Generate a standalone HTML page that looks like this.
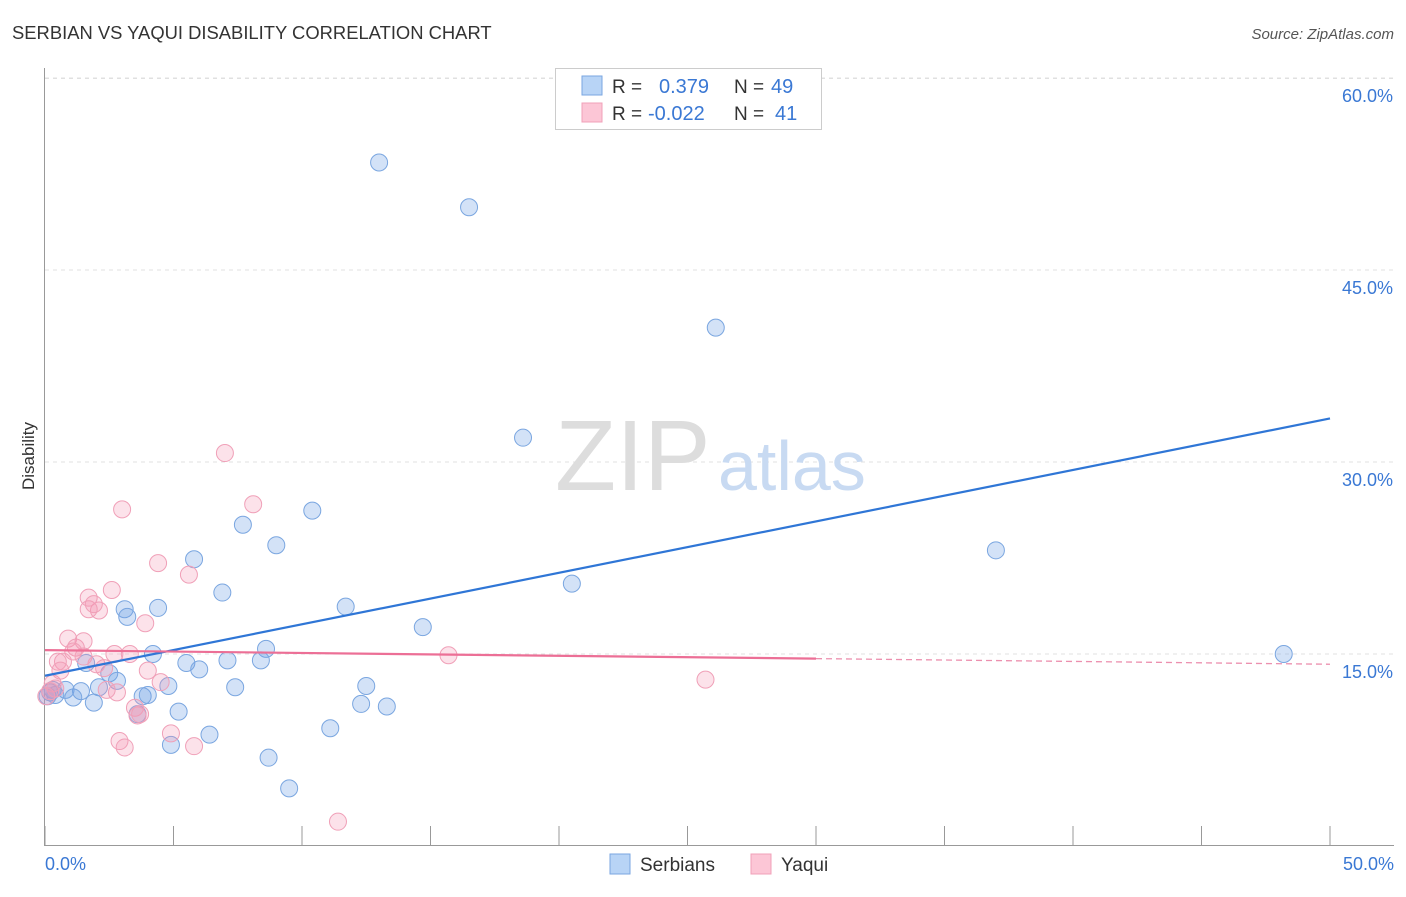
<!DOCTYPE html>
<html><head><meta charset="utf-8"><style>
body{margin:0;background:#fff;font-family:"Liberation Sans",sans-serif;}
svg text{font-family:"Liberation Sans",sans-serif;}
</style></head><body>
<svg id="chart" width="1406" height="892">
<text x="12" y="39" font-size="18.4" fill="#333">SERBIAN VS YAQUI DISABILITY CORRELATION CHART</text>
<text x="1394" y="39" font-size="15" fill="#555" font-style="italic" text-anchor="end">Source: ZipAtlas.com</text>
<text x="34" y="456" font-size="17" fill="#333" transform="rotate(-90 34 456)" text-anchor="middle">Disability</text>
<g id="grid"></g>
<text x="555" y="490" font-size="100" fill="#ddd" font-family="Liberation Serif">ZIP</text>
<text x="718" y="490" font-size="70" fill="#c8daf2">atlas</text>
<g id="pts"></g>
<g id="lines"></g>
<g>
<rect x="555.5" y="68.5" width="266" height="61" fill="#fff" stroke="#ccc"/>
<rect x="582" y="76" width="20" height="19" fill="#b8d4f6" stroke="#7aa6e0"/>
<rect x="582" y="103" width="20" height="19" fill="#fcc6d6" stroke="#f0a0b8"/>
<text x="612" y="93" font-size="19" fill="#333">R = </text><text x="659" y="93" font-size="20" fill="#3a78d4">0.379</text>
<text x="734" y="93" font-size="19" fill="#333">N = </text><text x="771" y="93" font-size="20" fill="#3a78d4">49</text>
<text x="612" y="120" font-size="19" fill="#333">R = </text><text x="648" y="120" font-size="20" fill="#3a78d4">-0.022</text>
<text x="734" y="120" font-size="19" fill="#333">N = </text><text x="775" y="120" font-size="20" fill="#3a78d4">41</text>
</g>
<g>
<rect x="610" y="854" width="20" height="20" fill="#b8d4f6" stroke="#7aa6e0"/>
<text x="640" y="871" font-size="19" fill="#333">Serbians</text>
<rect x="751" y="854" width="20" height="20" fill="#fcc6d6" stroke="#f0a0b8"/>
<text x="781" y="871" font-size="19" fill="#333">Yaqui</text>
</g>
</svg>
<script>
const yTicks=[15,30,45,60];
const xTickLabels=["0.0%","50.0%"];
const serbX=[13.0,16.5,26.1,18.6,37.0,20.5,48.2,7.7,10.4,9.0,5.8,6.9,3.1,4.4,3.2,11.7,14.7,4.2,8.6,5.5,6.0,7.1,8.4,1.6,2.5,2.8,4.8,7.4,12.5,0.3,0.8,1.4,2.1,3.8,4.0,0.4,1.1,1.9,12.3,13.3,5.2,3.6,11.1,6.4,4.9,8.7,9.5,0.2,0.1];
const serbY=[53.4,49.9,40.5,31.9,23.1,20.5,15.0,25.1,26.2,23.5,22.4,19.8,18.5,18.6,17.9,18.7,17.1,15.0,15.4,14.3,13.8,14.5,14.5,14.3,13.5,12.9,12.5,12.4,12.5,12.2,12.2,12.1,12.4,11.7,11.8,11.8,11.6,11.2,11.1,10.9,10.5,10.3,9.2,8.7,7.9,6.9,4.5,12.0,11.7];
const yaquiX=[7.0,8.1,3.0,4.4,5.6,2.6,1.7,2.1,1.7,1.9,3.9,0.9,1.5,1.2,1.1,3.3,2.7,0.7,0.5,1.5,2.0,2.3,4.0,4.5,2.8,2.4,0.3,0.4,0.05,15.7,25.7,3.5,3.6,4.9,2.9,3.1,5.8,11.4,0.2,0.6,3.7];
const yaquiY=[30.7,26.7,26.3,22.1,21.2,20.0,19.4,18.4,18.5,18.9,17.4,16.2,16.0,15.5,15.2,15.0,15.0,14.4,14.4,14.8,14.2,13.9,13.7,12.8,12.0,12.2,12.7,12.3,11.7,14.9,13.0,10.8,10.2,8.8,8.2,7.7,7.8,1.9,12.1,13.7,10.3];
const serbLine=[13.3,33.4];
const yaquiLine=[15.3,14.2];
const X0=45,X1=1330,Y0=846,PY=12.8;
const sx=v=>X0+(X1-X0)*v/50, sy=v=>Y0-v*PY;
const NS="http://www.w3.org/2000/svg";
function mk(t,a,p){const e=document.createElementNS(NS,t);for(const k in a)e.setAttribute(k,a[k]);p.appendChild(e);return e;}
const grid=document.getElementById('grid');
const gl=mk('line',{x1:45,y1:sy(60)+0.5,x2:1394,y2:sy(60)+0.5,stroke:'#ddd','stroke-dasharray':'4,4'},grid);


yTicks.forEach(t=>{
 const l=mk('line',{x1:45,y1:sy(t),x2:1394,y2:sy(t),stroke:'#e2e2e2','stroke-dasharray':'4,4'},grid);
 
 
 const tx=mk('text',{x:1393,y:sy(t)+24,'font-size':18,fill:'#3a78d4','text-anchor':'end'},grid);
 tx.textContent=t.toFixed(1)+'%';
 
 
});
const ax=mk('line',{x1:44.5,y1:68,x2:44.5,y2:846,stroke:'#999'},grid);


const bx=mk('line',{x1:44,y1:845.5,x2:1394,y2:845.5,stroke:'#999'},grid);


for(let i=0;i<=10;i++){
 const t=mk('line',{x1:sx(i*5),y1:826,x2:sx(i*5),y2:846,stroke:'#999'},grid);
 
 
}
[[0,'start',45],[50,'end',1394]].forEach((d,i)=>{
 const t=mk('text',{x:d[2],y:870,'font-size':18,fill:'#3a78d4','text-anchor':d[1]},grid);
 t.textContent=xTickLabels[i];
 
 
});
const pts=document.getElementById('pts');
serbX.forEach((x,i)=>{
 const c=mk('circle',{cx:sx(x),cy:sy(serbY[i]),r:8.5,fill:'rgba(110,160,230,0.3)',stroke:'#7aa6e0','stroke-width':1},pts);
 
 
});
yaquiX.forEach((x,i)=>{
 const c=mk('circle',{cx:sx(x),cy:sy(yaquiY[i]),r:8.5,fill:'rgba(245,150,180,0.28)',stroke:'#f0a0b8','stroke-width':1},pts);
 
 
});
const lines=document.getElementById('lines');
const b=mk('line',{x1:sx(0),y1:sy(serbLine[0]),x2:sx(50),y2:sy(serbLine[1]),stroke:'#2f76d6','stroke-width':2.2},lines);


const yv=x=>yaquiLine[0]+(yaquiLine[1]-yaquiLine[0])*x/50;
const p1=mk('line',{x1:sx(0),y1:sy(yv(0)),x2:sx(30),y2:sy(yv(30)),stroke:'#ec6f96','stroke-width':2.2},lines);


const p2=mk('line',{x1:sx(30),y1:sy(yv(30)),x2:sx(50),y2:sy(yv(50)),stroke:'#ec8fae','stroke-width':1.3,'stroke-dasharray':'6,4'},lines);


</script>
</body></html>
